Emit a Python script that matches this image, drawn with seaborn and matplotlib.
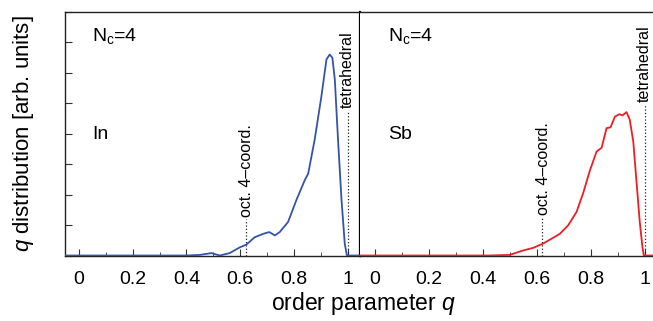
import seaborn as sns
import matplotlib.pyplot as plt
import matplotlib.ticker as mticker
import pandas as pd

# order parameter q distributions, N_c = 4
q_in = [-0.06, 0.40, 0.45, 0.493, 0.524, 0.561, 0.599, 0.623, 0.654, 0.685, 0.708,
        0.729, 0.747, 0.778, 0.809, 0.840, 0.853, 0.877, 0.902, 0.921, 0.933,
        0.943, 0.952, 0.964, 0.977, 0.989, 0.997, 1.06]
p_in = [0.0, 0.0, 0.02, 0.08, 0.0, 0.08, 0.27, 0.36, 0.6, 0.71, 0.77,
        0.66, 0.77, 1.1, 1.82, 2.47, 2.69, 3.8, 5.22, 6.44, 6.6,
        6.49, 5.78, 3.8, 1.82, 0.39, 0.0, 0.0]

q_sb = [-0.06, 0.42, 0.50, 0.549, 0.586, 0.623, 0.654, 0.685, 0.716, 0.747,
        0.772, 0.796, 0.821, 0.840, 0.858, 0.873, 0.889, 0.905, 0.917, 0.932,
        0.944, 0.957, 0.969, 0.981, 0.991, 0.996, 1.06]
p_sb = [0.0, 0.0, 0.02, 0.165, 0.25, 0.39, 0.55, 0.71, 0.99, 1.43,
        2.06, 2.78, 3.41, 3.54, 4.18, 4.21, 4.56, 4.64, 4.6, 4.71,
        4.46, 3.74, 2.42, 1.1, 0.27, 0.0, 0.0]

q_oct = 0.62
q_tet = 1.0
oct_top = [1.2, 1.25]
tet_top = [4.75, 4.95]
species = ['In', 'Sb']
colors = ['#3553a8', '#ee1c25']

sns.set_style('ticks')
plt.rcParams['font.family'] = ['Liberation Sans', 'DejaVu Sans']
plt.rcParams['mathtext.fontset'] = 'custom'
plt.rcParams['mathtext.rm'] = 'Liberation Sans'
plt.rcParams['mathtext.it'] = 'Liberation Sans:italic'
plt.rcParams['text.color'] = 'black'
plt.rcParams['axes.labelcolor'] = 'black'
plt.rcParams['xtick.labelcolor'] = 'black'

fig = plt.figure(figsize=(6.53, 3.21), dpi=100)
ax1 = fig.add_axes([0.0995, 0.204, 0.4515, 0.759])
ax2 = fig.add_axes([0.551, 0.204, 0.449, 0.759])

data = [(q_in, p_in), (q_sb, p_sb)]
xlims = [(-0.052, 1.045), (-0.055, 1.03)]

for i, ax in enumerate([ax1, ax2]):
    df = pd.DataFrame({'q': data[i][0], 'p': data[i][1]})
    sns.lineplot(data=df, x='q', y='p', ax=ax, color=colors[i], lw=1.3,
                 estimator=None, sort=False, zorder=3)
    ax.set_xlim(*xlims[i])
    ax.set_ylim(0, 8)
    ax.set_xlabel('')
    ax.set_ylabel('')
    ax.xaxis.set_major_locator(mticker.MultipleLocator(0.2))
    ax.xaxis.set_minor_locator(mticker.MultipleLocator(0.1))
    ax.xaxis.set_major_formatter(mticker.FuncFormatter(lambda v, p: f'{v:g}'))
    ax.tick_params(axis='x', which='major', direction='in', length=5,
                   labelsize=14, color='#333333', pad=11)
    ax.tick_params(axis='x', which='minor', direction='in', length=3,
                   color='#333333')
    for s in ax.spines.values():
        s.set_color('#222222')
        s.set_linewidth(1.0)

    ax.plot([q_oct, q_oct], [0, oct_top[i]], ls=':', color='#222222', lw=0.9)
    ax.text(q_oct + 0.003, oct_top[i] + 0.08, 'oct. 4\u2013coord.', rotation=90,
            ha='center', va='bottom', fontsize=11.5)
    ax.plot([q_tet, q_tet], [0, tet_top[i]], ls=':', color='#222222', lw=0.9)
    ax.text(q_tet - 0.003, tet_top[i] + 0.08, 'tetrahedral', rotation=90,
            ha='center', va='bottom', fontsize=11.5)
    ax.text(0.05, 7.2, r'N$_{\rm c}$=4', fontsize=14, va='center')
    ax.text(0.05, 3.96, species[i], fontsize=14, va='center')

ax1.yaxis.set_major_locator(mticker.MultipleLocator(1))
ax1.tick_params(axis='y', direction='in', length=5, labelleft=False,
                color='#333333')
ax1.spines['right'].set_color('black')
ax1.spines['right'].set_linewidth(1.6)

ax2.set_yticks([])
ax2.spines['left'].set_visible(False)
ax2.spines['right'].set_visible(False)

ax1.set_ylabel(r'$q$ distribution [arb. units]', fontsize=16, labelpad=21)
fig.text(0.557, 0.035, r'order parameter $q$', fontsize=16.5, ha='center')

fig.savefig('out.png', dpi=100)
